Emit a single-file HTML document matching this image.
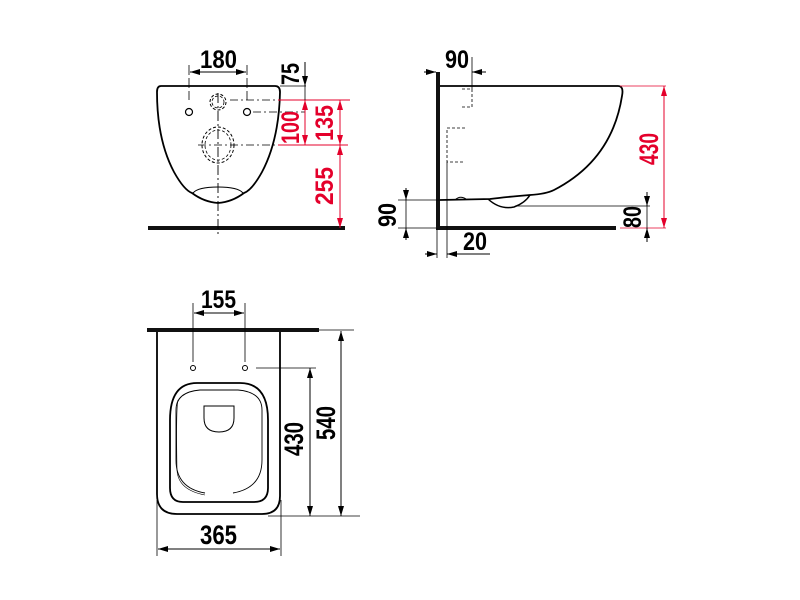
<!DOCTYPE html>
<html><head><meta charset="utf-8"><style>
html,body{margin:0;padding:0;background:#fff;}
svg{display:block;}
text{font-family:"Liberation Sans",sans-serif;font-weight:bold;}
</style></head><body>
<svg width="800" height="600" viewBox="0 0 800 600" xmlns="http://www.w3.org/2000/svg">
<defs>
<marker id="a" viewBox="0 0 10 6" refX="10" refY="3" markerWidth="10" markerHeight="6" markerUnits="userSpaceOnUse" orient="auto-start-reverse"><path d="M0,0L10,3L0,6z" fill="#000"/></marker>
<marker id="r" viewBox="0 0 10 6" refX="10" refY="3" markerWidth="10" markerHeight="6" markerUnits="userSpaceOnUse" orient="auto-start-reverse"><path d="M0,0L10,3L0,6z" fill="#e4002b"/></marker>
</defs>

<!-- FRONT VIEW -->
<rect x="148" y="226" width="197" height="4" fill="#111"/>
<path d="M161,86 L275,86 Q280,86 280,92 Q279,140 262,172 Q252,190 244,193 Q232,202 218,203 Q204,202 192,193 Q184,190 174,172 Q157,140 157,92 Q157,86 161,86 Z" fill="none" stroke="#000" stroke-width="1.8"/>
<path d="M193,193 Q198,187 218,187 Q238,187 243,193" fill="none" stroke="#000" stroke-width="1"/>
<line x1="218" y1="93" x2="218" y2="236" stroke="#000" stroke-width="0.9" stroke-dasharray="10,3,2,3"/>
<circle cx="189" cy="112" r="3.5" fill="none" stroke="#000" stroke-width="1.2"/>
<circle cx="247" cy="112" r="3.5" fill="none" stroke="#000" stroke-width="1.2"/>
<circle cx="218" cy="102" r="8" fill="none" stroke="#000" stroke-width="1" stroke-dasharray="3,2"/>
<circle cx="218" cy="102" r="6" fill="none" stroke="#000" stroke-width="0.8" stroke-dasharray="3,2"/>
<ellipse cx="218" cy="145" rx="16" ry="18" fill="none" stroke="#000" stroke-width="1" stroke-dasharray="3,2"/>
<ellipse cx="218" cy="145" rx="13" ry="15" fill="none" stroke="#000" stroke-width="0.8" stroke-dasharray="3,2"/>
<line x1="189" y1="65" x2="189" y2="100" stroke="#000" stroke-width="0.8" stroke-dasharray="10,3"/>
<line x1="247" y1="65" x2="247" y2="100" stroke="#000" stroke-width="0.8" stroke-dasharray="10,3"/>
<line x1="190" y1="72" x2="246" y2="72" stroke="#000" stroke-width="1" marker-start="url(#a)" marker-end="url(#a)"/>
<text x="200" y="68" font-size="25" textLength="37" lengthAdjust="spacingAndGlyphs">180</text>
<line x1="280" y1="86" x2="306" y2="86" stroke="#000" stroke-width="0.8"/>
<line x1="305" y1="62" x2="305" y2="86" stroke="#000" stroke-width="1" marker-end="url(#a)"/>
<line x1="230" y1="100" x2="350" y2="100" stroke="#000" stroke-width="0.7" stroke-dasharray="8,3,2,3"/>
<line x1="278" y1="100" x2="350" y2="100" stroke="#e4002b" stroke-width="1"/>
<line x1="253" y1="112" x2="305" y2="112" stroke="#000" stroke-width="0.7" stroke-dasharray="8,3,2,3"/>
<line x1="198" y1="145" x2="278" y2="145" stroke="#000" stroke-width="0.7" stroke-dasharray="8,3,2,3"/>
<line x1="278" y1="145" x2="348" y2="145" stroke="#e4002b" stroke-width="1"/>
<line x1="305" y1="86" x2="305" y2="145" stroke="#000" stroke-width="0.8"/>
<line x1="305" y1="100" x2="305" y2="145" stroke="#e4002b" stroke-width="1" marker-start="url(#r)" marker-end="url(#r)"/>
<line x1="340" y1="100" x2="340" y2="145" stroke="#e4002b" stroke-width="1" marker-start="url(#r)" marker-end="url(#r)"/>
<line x1="340" y1="145" x2="340" y2="228" stroke="#e4002b" stroke-width="1" marker-start="url(#r)" marker-end="url(#r)"/>
<text transform="translate(299,85) rotate(-90)" font-size="25" textLength="22" lengthAdjust="spacingAndGlyphs">75</text>
<text transform="translate(299,144) rotate(-90)" font-size="25" textLength="33" lengthAdjust="spacingAndGlyphs" fill="#e4002b">100</text>
<text transform="translate(333,141) rotate(-90)" font-size="25" textLength="36" lengthAdjust="spacingAndGlyphs" fill="#e4002b">135</text>
<text transform="translate(333,205) rotate(-90)" font-size="25" textLength="38" lengthAdjust="spacingAndGlyphs" fill="#e4002b">255</text>

<!-- SIDE VIEW -->
<rect x="436" y="72" width="4" height="158" fill="#111"/>
<rect x="436" y="226" width="180" height="4" fill="#111"/>
<path d="M440,86 L618,86 Q624,86 622,96 Q612,160 554,190 Q546,194 530,195 Q505,197 490,199 L440,200" fill="none" stroke="#000" stroke-width="1.8"/>
<path d="M488,199 Q500,210 514,207 Q525,203 530,195" fill="none" stroke="#000" stroke-width="1.5"/>
<path d="M455,200 Q460,195 466,199" fill="none" stroke="#000" stroke-width="1"/>
<path d="M462,89 L472,89 L472,107 L462,107" fill="none" stroke="#000" stroke-width="0.8" stroke-dasharray="3,2"/>
<path d="M465,128 L447,128 L447,162 L465,162" fill="none" stroke="#000" stroke-width="0.8" stroke-dasharray="3,2"/>
<line x1="447" y1="162" x2="447" y2="258" stroke="#000" stroke-width="0.8"/>
<line x1="472" y1="57" x2="472" y2="89" stroke="#000" stroke-width="0.8"/>
<line x1="424" y1="72" x2="436" y2="72" stroke="#000" stroke-width="1" marker-end="url(#a)"/>
<line x1="486" y1="72" x2="472" y2="72" stroke="#000" stroke-width="1" marker-end="url(#a)"/>
<text x="445" y="68" font-size="25" textLength="24" lengthAdjust="spacingAndGlyphs">90</text>
<line x1="620" y1="86" x2="666" y2="86" stroke="#e4002b" stroke-width="0.8"/>
<line x1="620" y1="228" x2="666" y2="228" stroke="#e4002b" stroke-width="0.8"/>
<line x1="664" y1="86" x2="664" y2="228" stroke="#e4002b" stroke-width="1" marker-start="url(#r)" marker-end="url(#r)"/>
<text transform="translate(658,165) rotate(-90)" font-size="27" textLength="32" lengthAdjust="spacingAndGlyphs" fill="#e4002b">430</text>
<line x1="515" y1="206" x2="650" y2="206" stroke="#000" stroke-width="0.7"/>
<line x1="647" y1="192" x2="647" y2="206" stroke="#000" stroke-width="1" marker-end="url(#a)"/>
<line x1="647" y1="242" x2="647" y2="228" stroke="#000" stroke-width="1" marker-end="url(#a)"/>
<line x1="647" y1="206" x2="647" y2="228" stroke="#000" stroke-width="0.8"/>
<text transform="translate(641,228) rotate(-90)" font-size="25" textLength="22" lengthAdjust="spacingAndGlyphs">80</text>
<line x1="398" y1="200" x2="440" y2="200" stroke="#000" stroke-width="0.7"/>
<line x1="398" y1="228" x2="436" y2="228" stroke="#000" stroke-width="0.7"/>
<line x1="406" y1="200" x2="406" y2="228" stroke="#000" stroke-width="0.8"/>
<line x1="406" y1="188" x2="406" y2="200" stroke="#000" stroke-width="1" marker-end="url(#a)"/>
<line x1="406" y1="240" x2="406" y2="228" stroke="#000" stroke-width="1" marker-end="url(#a)"/>
<text transform="translate(396,227) rotate(-90)" font-size="25" textLength="24" lengthAdjust="spacingAndGlyphs">90</text>
<line x1="437" y1="228" x2="437" y2="258" stroke="#000" stroke-width="0.8"/>
<line x1="425" y1="254" x2="437" y2="254" stroke="#000" stroke-width="1" marker-end="url(#a)"/>
<line x1="490" y1="254" x2="447" y2="254" stroke="#000" stroke-width="1" marker-end="url(#a)"/>
<text x="463" y="250" font-size="25" textLength="24" lengthAdjust="spacingAndGlyphs">20</text>

<!-- TOP VIEW -->
<rect x="147" y="328" width="172" height="4" fill="#111"/>
<path d="M157,332 L157,494 Q157,514 177,514 L262,514 Q280,514 280,496 L280,332" fill="none" stroke="#000" stroke-width="1.8"/>
<path d="M197,383 L240,383 Q268,383 268,420 L268,488 Q268,502 254,502 L183,502 Q170,502 170,488 L170,420 Q170,383 197,383 Z" fill="none" stroke="#000" stroke-width="1.8"/>
<path d="M205,493 Q176,488 176,460 L176,410 Q176,392 200,390 L238,390 Q262,392 262,410 L262,460 Q262,488 233,493" fill="none" stroke="#000" stroke-width="0.9"/>
<path d="M178,400 Q176,408 177,470 Q178,490 205,495" fill="none" stroke="#000" stroke-width="0.6"/>
<path d="M204,406 L234,406 L234,418 Q234,432 219,432 Q204,432 204,418 Z" fill="none" stroke="#000" stroke-width="1"/>
<circle cx="193" cy="368" r="2.5" fill="none" stroke="#000" stroke-width="1"/>
<circle cx="245" cy="368" r="2.5" fill="none" stroke="#000" stroke-width="1"/>
<line x1="193" y1="303" x2="193" y2="362" stroke="#000" stroke-width="0.8"/>
<line x1="245" y1="303" x2="245" y2="362" stroke="#000" stroke-width="0.8"/>
<line x1="194" y1="313" x2="244" y2="313" stroke="#000" stroke-width="1" marker-start="url(#a)" marker-end="url(#a)"/>
<text x="201" y="308" font-size="25" textLength="35" lengthAdjust="spacingAndGlyphs">155</text>
<line x1="256" y1="368" x2="316" y2="368" stroke="#000" stroke-width="0.8"/>
<line x1="310" y1="368" x2="310" y2="516" stroke="#000" stroke-width="1" marker-start="url(#a)" marker-end="url(#a)"/>
<text transform="translate(303,456) rotate(-90)" font-size="27" textLength="34" lengthAdjust="spacingAndGlyphs">430</text>
<line x1="319" y1="330" x2="354" y2="330" stroke="#000" stroke-width="0.8"/>
<line x1="268" y1="516" x2="360" y2="516" stroke="#000" stroke-width="0.8"/>
<line x1="341" y1="331" x2="341" y2="516" stroke="#000" stroke-width="1" marker-start="url(#a)" marker-end="url(#a)"/>
<text transform="translate(335,440) rotate(-90)" font-size="27" textLength="34" lengthAdjust="spacingAndGlyphs">540</text>
<line x1="157" y1="500" x2="157" y2="556" stroke="#000" stroke-width="0.8"/>
<line x1="281" y1="500" x2="281" y2="556" stroke="#000" stroke-width="0.8"/>
<line x1="158" y1="549" x2="280" y2="549" stroke="#000" stroke-width="1" marker-start="url(#a)" marker-end="url(#a)"/>
<text x="200" y="544" font-size="27" textLength="37" lengthAdjust="spacingAndGlyphs">365</text>
</svg>
</body></html>
